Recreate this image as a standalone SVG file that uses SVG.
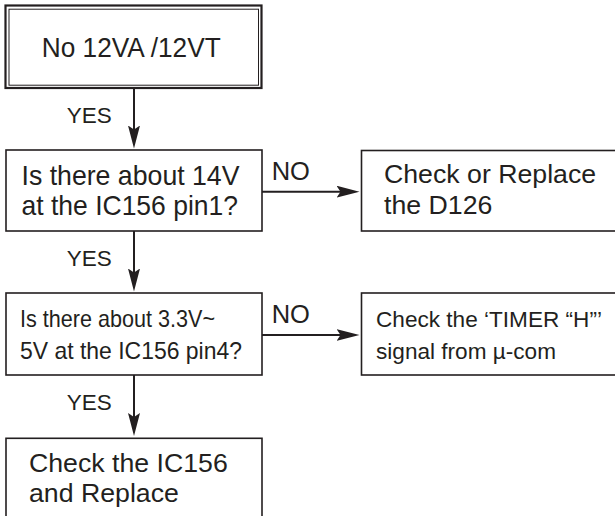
<svg xmlns="http://www.w3.org/2000/svg" width="615" height="516" viewBox="0 0 615 516">
  <defs>
    <marker id="ah" markerUnits="userSpaceOnUse" markerWidth="24" markerHeight="14" refX="13" refY="6" orient="auto">
      <path d="M0,0 L23,6 L0,12 L4,6 Z" fill="#231f20"/>
    </marker>
  </defs>
  <style>
    .box { fill: #ffffff; stroke: #231f20; stroke-width: 1.6; }
    .t { font-family: "Liberation Sans", Arial, sans-serif; fill: #231f20; }
    .big { font-size: 26.7px; }
    .mid { font-size: 22.6px; }
    .lbl { font-size: 22.5px; }
    .no { font-size: 25.5px; }
    .conn { stroke: #231f20; stroke-width: 2; fill: none; marker-end: url(#ah); }
  </style>
  <rect width="615" height="516" fill="#ffffff"/>

  <g id="n1">
    <rect x="5.5" y="5.5" width="256" height="82.5" fill="#ffffff" stroke="#231f20" stroke-width="2.2"/>
    <rect x="9" y="9.2" width="249.5" height="76" fill="none" stroke="#231f20" stroke-width="1"/>
    <text class="t" x="41.7" y="57" font-size="27.5px" textLength="179" lengthAdjust="spacingAndGlyphs">No 12VA /12VT</text>
  </g>

  <g id="n2">
    <rect class="box" x="6" y="150" width="256" height="81"/>
    <text class="t" x="21.5" y="185" font-size="28px" textLength="218" lengthAdjust="spacingAndGlyphs">Is there about 14V</text>
    <text class="t" x="21.5" y="215" font-size="28px" textLength="216.5" lengthAdjust="spacingAndGlyphs">at the IC156 pin1?</text>
  </g>

  <g id="n3">
    <rect class="box" x="361.5" y="150.5" width="270" height="80.5"/>
    <text class="t big" x="384" y="183.3">Check or Replace</text>
    <text class="t big" x="384" y="214">the D126</text>
  </g>

  <g id="n4">
    <rect class="box" x="6" y="293" width="256" height="82"/>
    <text class="t" x="20" y="327.3" font-size="24px" textLength="195" lengthAdjust="spacingAndGlyphs">Is there about 3.3V~</text>
    <text class="t" x="20" y="359.3" font-size="24px" textLength="222" lengthAdjust="spacingAndGlyphs">5V at the IC156 pin4?</text>
  </g>

  <g id="n5">
    <rect class="box" x="361.5" y="293" width="270" height="82"/>
    <text class="t mid" x="376" y="326.7">Check the ‘TIMER “H”’</text>
    <text class="t mid" x="376" y="359.3">signal from µ-com</text>
  </g>

  <g id="n6">
    <rect class="box" x="6" y="438.3" width="256" height="100"/>
    <text class="t big" x="29" y="471.7">Check the IC156</text>
    <text class="t big" x="29" y="501.7">and Replace</text>
  </g>

  <g id="connectors">
    <line class="conn" x1="134" y1="88" x2="134" y2="138.5"/>
    <line class="conn" x1="134" y1="231" x2="134" y2="281.5"/>
    <line class="conn" x1="134" y1="375" x2="134" y2="426"/>
    <line class="conn" x1="262" y1="191.7" x2="349.5" y2="191.7"/>
    <line class="conn" x1="262" y1="335" x2="349.5" y2="335"/>
    <text class="t lbl" x="66.7" y="123">YES</text>
    <text class="t lbl" x="66.7" y="266">YES</text>
    <text class="t lbl" x="66.7" y="409.5">YES</text>
    <text class="t no" x="271.7" y="180">NO</text>
    <text class="t no" x="271.7" y="322.7">NO</text>
  </g>
</svg>
